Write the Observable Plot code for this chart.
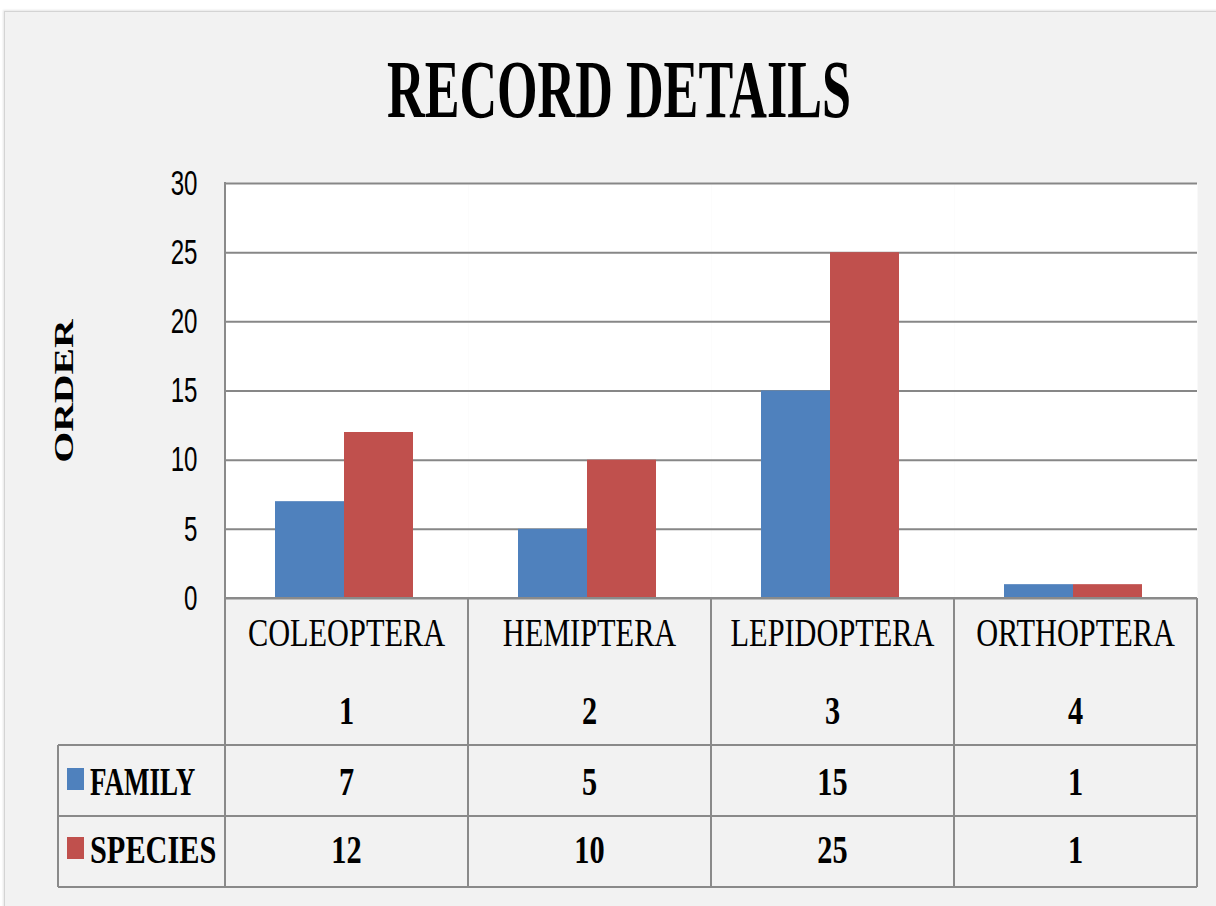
<!DOCTYPE html>
<html>
<head>
<meta charset="utf-8">
<script src="https://cdn.jsdelivr.net/npm/d3@7"></script>
<script src="https://cdn.jsdelivr.net/npm/@observablehq/plot@0.6"></script>
<style>
  html, body { margin: 0; padding: 0; background: #ffffff; }
  #wrap { position: relative; width: 1216px; height: 906px; overflow: hidden; background: #ffffff; }
  #panel { position: absolute; left: 4px; top: 11px; width: 1230px; height: 920px; background: #f2f2f2;
           border-left: 1px solid #d4d4d4; border-top: 1px solid #d4d4d4; box-shadow: -1px -1px 2px #e6e6e6; }
  #chart { position: absolute; left: 0; top: 0; }
</style>
</head>
<body>
<div id="wrap"><div id="panel"></div><div id="chart"></div></div>
<script>
// ---- data ----
const categories = ["COLEOPTERA", "HEMIPTERA", "LEPIDOPTERA", "ORTHOPTERA"];
const orderNumbers = [1, 2, 3, 4];
const series = ["FAMILY", "SPECIES"];
const familyValues = [7, 5, 15, 1];
const speciesValues = [12, 10, 25, 1];
const seriesColors = ["#4f81bd", "#c0504d"];
const yTicks = [0, 5, 10, 15, 20, 25, 30];
const titleText = "RECORD DETAILS";
const yLabel = "ORDER";

const valuesBySeries = {FAMILY: familyValues, SPECIES: speciesValues};
const rows = categories.flatMap((c, i) => series.map(s => ({category: c, series: s, value: valuesBySeries[s][i]})));

const plot = Plot.plot({
  width: 1216,
  height: 906,
  marginLeft: 224,
  marginRight: 19,
  marginTop: 183,
  marginBottom: 308,
  style: {background: "transparent", fontFamily: "'Liberation Sans', Arial, sans-serif", fontSize: "35px", color: "#000"},
  facet: {data: rows, x: "category"},
  fx: {domain: categories, padding: 0, axis: null, label: null},
  x: {domain: series, paddingInner: 0, paddingOuter: 0.76, align: 0.48, axis: null, label: null},
  y: {domain: [0, 30], ticks: yTicks, tickSize: 0, tickPadding: 28, label: null, tickFormat: d => String(d)},
  color: {domain: series, range: seriesColors},
  marks: [
    Plot.frame({fill: "white", stroke: "none"}),
    Plot.ruleY(yTicks, {stroke: "#878787", strokeWidth: 2}),
    Plot.barY(rows, {x: "series", y: "value", fill: "series"})
  ]
});

// squeeze existing (axis) text horizontally, keeping its anchor point
function squeeze(el, s) {
  const T = el.getAttribute("transform") || "";
  const X = parseFloat(el.getAttribute("x")) || 0;
  el.setAttribute("transform", `${T} translate(${X},0) scale(${s},1) translate(${-X},0)`);
}
plot.querySelectorAll("text").forEach(t => squeeze(t, 0.69));

const svg = d3.select(plot);
const fx = plot.scale("fx");
const y = plot.scale("y");
const bw = fx.bandwidth;
const colLeft = categories.map(c => fx.apply(c));
const xStart = colLeft[0];
const xEnd = colLeft[colLeft.length - 1] + bw;
const yBase = y.apply(0);
const yTopPlot = y.apply(30);
const headerH = 147, rowH = 71, legendLeft = 58;
const tableBottom = yBase + headerH + 2 * rowH;
const lineColor = "#8a8a8a";

const g = svg.append("g").attr("class", "table");
function hline(x1, x2, yy) {
  g.append("line").attr("x1", x1).attr("x2", x2).attr("y1", yy).attr("y2", yy)
    .attr("stroke", lineColor).attr("stroke-width", 2);
}
function vline(xx, y1, y2) {
  g.append("line").attr("x1", xx).attr("x2", xx).attr("y1", y1).attr("y2", y2)
    .attr("stroke", lineColor).attr("stroke-width", 2);
}
function txt(x, yy, s, {size = 41, weight = "normal", anchor = "middle", sx = 0.74, family = "'Liberation Serif', 'Times New Roman', serif", rotate = null} = {}) {
  const t = g.append("text")
    .attr("transform", rotate == null ? `translate(${x},${yy}) scale(${sx},1)` : `translate(${x},${yy}) rotate(${rotate}) scale(${sx},1)`)
    .attr("text-anchor", anchor)
    .attr("font-family", family)
    .attr("font-size", size)
    .attr("font-weight", weight)
    .attr("fill", "#000")
    .text(s);
  return t;
}

// plot left border
vline(xStart, yTopPlot - 1, yBase);
// table grid
hline(xStart, xEnd, yBase);
hline(legendLeft, xEnd, yBase + headerH);
hline(legendLeft, xEnd, yBase + headerH + rowH);
hline(legendLeft, xEnd, tableBottom);
colLeft.forEach(cx => vline(cx, yBase, tableBottom));
vline(xEnd, yBase, tableBottom);
vline(legendLeft, yBase + headerH, tableBottom);

// header cells
categories.forEach((c, i) => {
  const cx = colLeft[i] + bw / 2;
  txt(cx, yBase + 48, c, {weight: "normal", sx: 0.74});
  txt(cx, yBase + 126, String(orderNumbers[i]), {weight: "bold", sx: 0.74});
});
// value rows
series.forEach((s, j) => {
  const rowTop = yBase + headerH + j * rowH;
  valuesBySeries[s].forEach((v, i) => {
    txt(colLeft[i] + bw / 2, rowTop + 50 - j * 3, String(v), {weight: "bold", sx: 0.74});
  });
  g.append("rect").attr("x", 67).attr("y", rowTop + 23 - j * 2).attr("width", 17).attr("height", 22)
    .attr("fill", seriesColors[j]);
  txt(90, rowTop + 50 - j * 3, s, {weight: "bold", anchor: "start", sx: j === 0 ? 0.66 : 0.74});
});

// title and y label
txt(619, 117, titleText, {size: 82, weight: "bold", sx: 0.636});
txt(73, 391, yLabel, {size: 28, weight: "bold", sx: 1.42, rotate: -90});

document.getElementById("chart").appendChild(plot);
</script>
</body>
</html>
